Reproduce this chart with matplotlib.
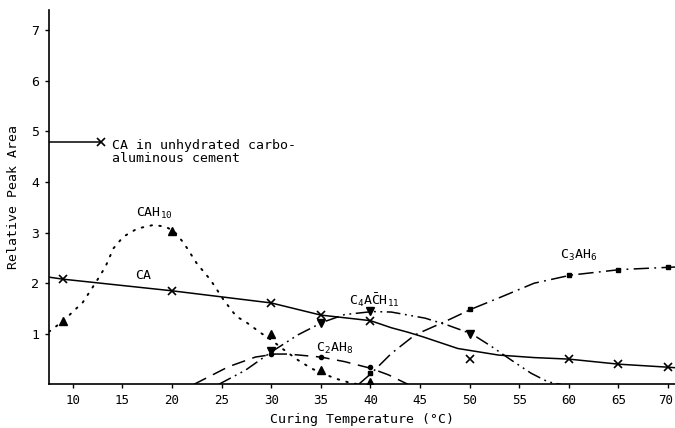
import matplotlib
matplotlib.use("Agg")
import matplotlib.pyplot as plt
import matplotlib.transforms as mtransforms

plt.rcParams['font.family'] = ['DejaVu Sans Mono']
plt.rcParams['mathtext.fontset'] = 'custom'
plt.rcParams['mathtext.rm'] = 'DejaVu Sans Mono'
plt.rcParams['mathtext.it'] = 'DejaVu Sans Mono'
plt.rcParams['mathtext.default'] = 'rm'

# ---- measured points (markers) ----
ca_T = [9, 20, 30, 35, 40, 50, 60, 65, 70]
ca_v = [2.08, 1.85, 1.61, 1.37, 1.26, 0.50, 0.50, 0.40, 0.34]

cah10_T = [9, 20, 30, 35, 40]
cah10_v = [1.25, 3.03, 0.99, 0.28, 0.05]

c2ah8_T = [30, 35, 40]
c2ah8_v = [0.60, 0.54, 0.34]

c4ach11_T = [30, 35, 40, 50]
c4ach11_v = [0.66, 1.22, 1.45, 1.00]

c3ah6_T = [40, 50, 60, 65, 70]
c3ah6_v = [0.22, 1.49, 2.16, 2.27, 2.32]

unhyd_T = [12.8]
unhyd_v = [4.8]

# ---- drawn curves ----
ca_curve_T = [7.6, 9, 20, 30, 35, 40, 42.1, 43.8, 45.3, 48.8, 52.9, 56.5, 60, 65, 70, 70.7]
ca_curve_v = [2.12, 2.08, 1.85, 1.61, 1.37, 1.26, 1.12, 1.03, 0.94, 0.71, 0.58, 0.53, 0.50, 0.40, 0.34, 0.33]

cah10_curve_T = [7.6, 9, 11, 12.3, 13.3, 14.1, 15.1, 16.5, 18.1, 19.3, 20.2, 21.2, 22.5, 23.9,
                 25.2, 26.5, 27.4, 29.0, 30.0, 31.1, 32.7, 34.1, 35.2, 36.4, 37.8, 38.8]
cah10_curve_v = [1.04, 1.25, 1.62, 2.01, 2.33, 2.69, 2.92, 3.08, 3.15, 3.12, 3.03, 2.79, 2.39, 2.06,
                 1.67, 1.34, 1.24, 1.01, 0.88, 0.71, 0.48, 0.31, 0.22, 0.12, 0.04, 0.0]

c2ah8_curve_T = [22.2, 25.7, 28.4, 30.4, 31.7, 35.0, 37.4, 39.4, 40.0, 41.8, 43.8]
c2ah8_curve_v = [0.0, 0.35, 0.54, 0.60, 0.60, 0.54, 0.45, 0.35, 0.32, 0.19, 0.0]

c4ach11_curve_T = [24.7, 27.4, 30.0, 32.7, 35.2, 37.4, 40.2, 42.1, 45.5, 47.8, 50.2, 52.2, 54.2, 56.2, 57.9, 59.2]
c4ach11_curve_v = [0.0, 0.28, 0.64, 0.98, 1.23, 1.38, 1.44, 1.43, 1.31, 1.17, 1.00, 0.75, 0.48, 0.22, 0.05, 0.0]

c3ah6_curve_T = [38.8, 40.1, 42.1, 44.5, 47.5, 50.2, 53.2, 56.5, 60.2, 65.2, 70.7]
c3ah6_curve_v = [0.0, 0.22, 0.61, 0.98, 1.24, 1.49, 1.73, 2.00, 2.16, 2.27, 2.32]

unhyd_line_T = [7.6, 12.8]
unhyd_line_v = [4.8, 4.8]

x_ticks = [10, 15, 20, 25, 30, 35, 40, 45, 50, 55, 60, 65, 70]
y_ticks = [1, 2, 3, 4, 5, 6, 7]

W, H = 675, 428
fig = plt.figure(figsize=(W / 100, H / 100), dpi=100)
ax = fig.add_axes([49 / W, (H - 384.4) / H, (675 - 49) / W, (384.4 - 10) / H])

k = 'black'
lw = 1.1
ax.plot(ca_curve_T, ca_curve_v, color=k, lw=lw, ls='-')
ax.plot(ca_T, ca_v, ls='none', marker='x', color=k, ms=5.5, mew=1.2)

ax.plot(cah10_curve_T, cah10_curve_v, color=k, lw=1.4, ls=(0, (0.8, 3.8)), dash_capstyle='round')
ax.plot(cah10_T, cah10_v, ls='none', marker='^', color=k, ms=6)

ax.plot(c2ah8_curve_T, c2ah8_curve_v, color=k, lw=lw, ls=(0, (9, 5)))
ax.plot(c2ah8_T, c2ah8_v, ls='none', marker='o', color=k, ms=3)

ax.plot(c4ach11_curve_T, c4ach11_curve_v, color=k, lw=lw, ls=(0, (9, 3, 1.2, 3, 1.2, 3)))
ax.plot(c4ach11_T, c4ach11_v, ls='none', marker='v', color=k, ms=6)

ax.plot(c3ah6_curve_T, c3ah6_curve_v, color=k, lw=lw, ls=(0, (10, 3.5, 1.2, 3.5)))
ax.plot(c3ah6_T, c3ah6_v, ls='none', marker='s', color=k, ms=3.5)

ax.plot(unhyd_line_T, unhyd_line_v, color=k, lw=lw, ls='-')
ax.plot(unhyd_T, unhyd_v, ls='none', marker='x', color=k, ms=5.5, mew=1.2)

fs = 9.5
ax.text(13.95, 4.86, 'CA in unhydrated carbo-\naluminous cement', fontsize=fs,
        ha='left', va='top', linespacing=1.05)
ax.text(16.4, 3.31, r'CAH$_{10}$', fontsize=fs, ha='left', va='baseline')
ax.text(16.3, 2.08, 'CA', fontsize=fs, ha='left', va='baseline')
ax.text(37.8, 1.57, r'C$_4$A$\bar{\mathrm{C}}$H$_{11}$', fontsize=fs, ha='left', va='baseline')
ax.text(34.5, 0.65, r'C$_2$AH$_8$', fontsize=fs, ha='left', va='baseline')
ax.text(59.1, 2.49, r'C$_3$AH$_6$', fontsize=fs, ha='left', va='baseline')

ax.set_xlim(7.6, 70.7)
ax.set_ylim(0, 7.4)
ax.set_xticks(x_ticks)
ax.set_xticklabels([str(t) for t in x_ticks], fontsize=9)
ax.set_yticks(y_ticks)
ax.set_yticklabels([str(t) for t in y_ticks], fontsize=fs)
ax.tick_params(axis='both', direction='out', length=3, width=1, pad=4)
# keep the last x tick label inside the figure
last = ax.get_xticklabels()[-1]
last.set_transform(last.get_transform() + mtransforms.ScaledTranslation(-2 / 100, 0, fig.dpi_scale_trans))
ax.spines['top'].set_visible(False)
ax.spines['right'].set_visible(False)
ax.spines['left'].set_linewidth(1.2)
ax.spines['bottom'].set_linewidth(1.2)
ax.set_xlabel('Curing Temperature (\u00b0C)', fontsize=fs, labelpad=4)
ax.set_ylabel('Relative Peak Area', fontsize=fs, labelpad=8)

fig.savefig('out.png', dpi=100)
